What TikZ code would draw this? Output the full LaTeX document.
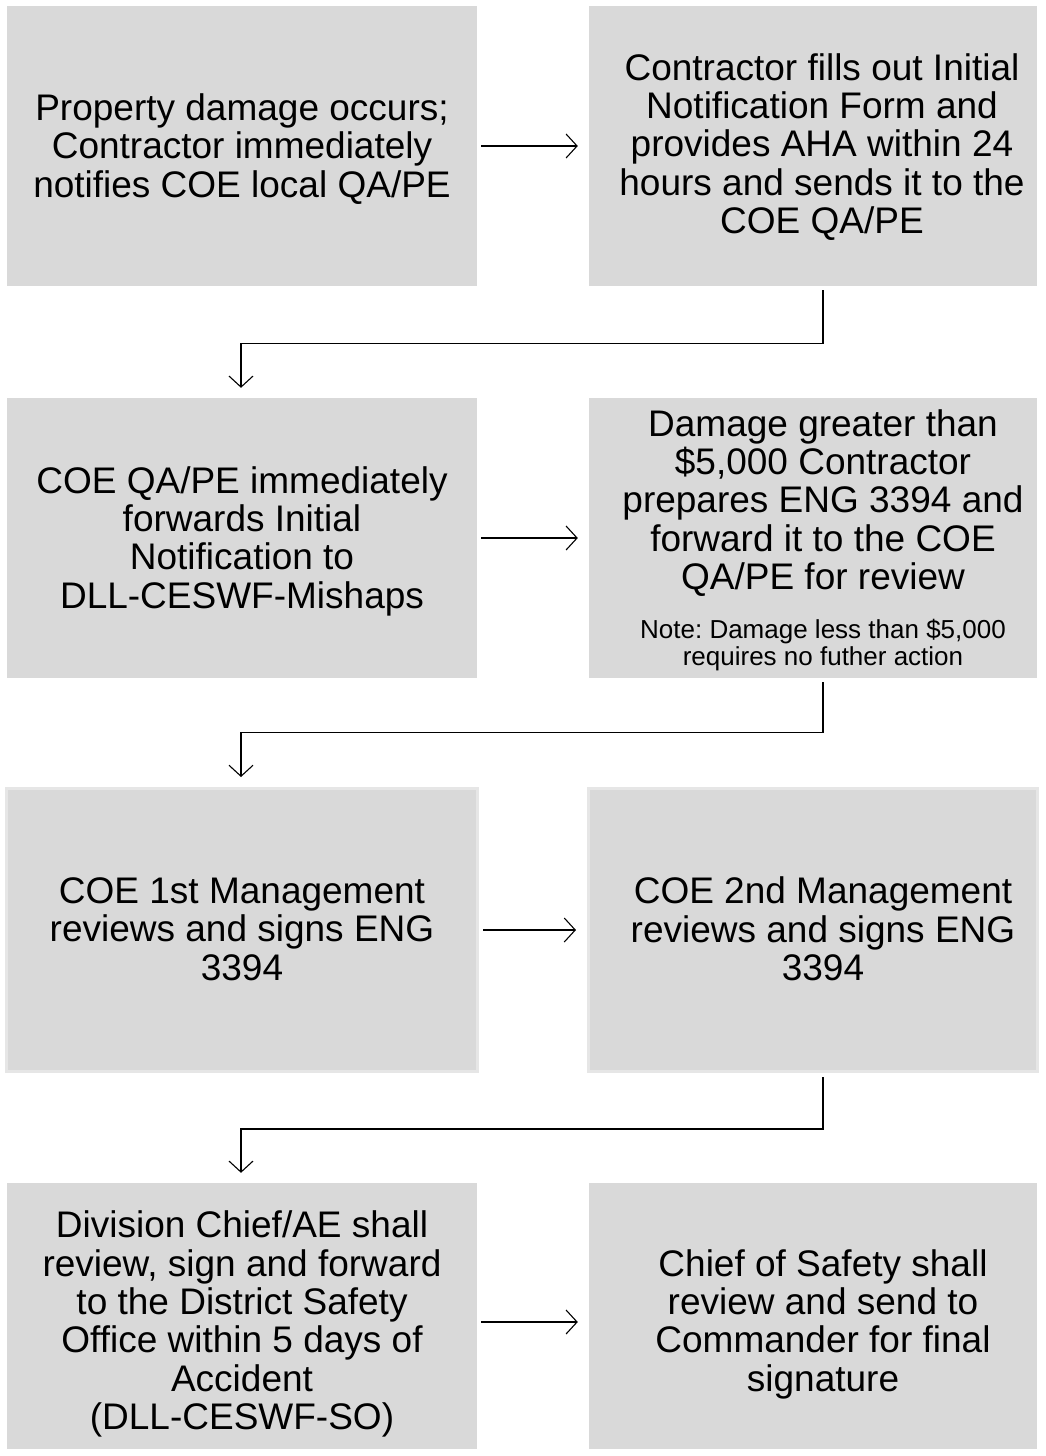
\documentclass[tikz,border=0pt]{standalone}
\usepackage{fontspec}
\setmainfont{Liberation Sans}
\usetikzlibrary{arrows.meta}
\begin{document}
\frenchspacing
\begin{tikzpicture}[x=1pt,y=-1pt,
  box/.style={fill=boxgray,draw=none,inner sep=0pt},
  boxl/.style={box,minimum width=470pt,minimum height=280pt},
  boxr/.style={box,minimum width=448pt,minimum height=280pt},
  txt/.style={align=center,inner sep=0pt,font=\fontsize{37}{38.3}\selectfont},
  note/.style={align=center,inner sep=0pt,font=\fontsize{26}{27}\selectfont},
  arr/.style={draw=black,line width=1.1pt,-{Straight Barb[length=11pt,width=24pt,line width=1.1pt]}},
  ]
\definecolor{boxgray}{HTML}{D9D9D9}
\definecolor{edgegray}{HTML}{E6E6E6}
\useasboundingbox (0,0) rectangle (1045,1456);
\node[boxl] (b1) at (242,146) {};
\node[boxr] (b2) at (813,146) {};
\node[boxl] (b3) at (242,538) {};
\node[boxr] (b4) at (813,538) {};
\node[boxl,draw=edgegray,line width=3pt,minimum width=471pt,minimum height=283pt] (b5) at (242,930) {};
\node[boxr,draw=edgegray,line width=3pt,minimum width=449pt,minimum height=283pt] (b6) at (813,930) {};
\node[boxl,minimum height=266pt] (b7) at (242,1316) {};
\node[boxr,minimum height=266pt] (b8) at (813,1316) {};
% texts
\node[txt] (t1) at ([yshift=-3]b1.center) {Property damage occurs;\\Contractor immediately\\notifies COE local QA/PE};
\node[txt] (t2) at ([xshift=9,yshift=-1]b2.center) {Contractor fills out Initial\\Notification Form and\\provides AHA within 24\\hours and sends it to the\\COE QA/PE};
\node[txt] (t3) at ([yshift=-3]b3.center) {COE QA/PE immediately\\forwards Initial\\Notification to\\DLL-CESWF-Mishaps};
\node[txt] (t4) at (823,503) {Damage greater than\\\$5,000 Contractor\\prepares ENG 3394 and\\forward it to the COE\\QA/PE for review};
\node[note] (t4n) at (823,645) {Note: Damage less than \$5,000\\requires no futher action};
\node[txt] (t5) at ([yshift=1]b5.center) {COE 1st Management\\reviews and signs ENG\\3394};
\node[txt] (t6) at ([xshift=10,yshift=1]b6.center) {COE 2nd Management\\reviews and signs ENG\\3394};
\node[txt] (t7) at ([yshift=-8]b7.center) {Division Chief/AE shall\\review, sign and forward\\to the District Safety\\Office within 5 days of\\Accident\\(DLL-CESWF-SO)};
\node[txt] (t8) at ([xshift=10,yshift=-8]b8.center) {Chief of Safety shall\\review and send to\\Commander for final\\signature};
% horizontal arrows
\draw[arr,shorten <=4pt,shorten >=11pt] (b1.east) -- (b2.west);
\draw[arr,shorten <=4pt,shorten >=11pt] (b3.east) -- (b4.west);
\draw[arr,shorten <=4pt,shorten >=11pt] (b5.east) -- (b6.west);
\draw[arr,shorten <=4pt,shorten >=11pt] ([yshift=-6]b7.east) -- ([yshift=-6]b8.west);
% elbows
\draw[arr,shorten <=4pt,shorten >=10pt] ([xshift=10]b2.south) -- ++(0,57) -| ([xshift=-1]b3.north);
\draw[arr,shorten <=4pt,shorten >=10pt] ([xshift=10]b4.south) -- ++(0,54) -| ([xshift=-1]b5.north);
\draw[arr,shorten <=4pt,shorten >=10pt] ([xshift=10]b6.south) -- ++(0,56) -| ([xshift=-1]b7.north);
\end{tikzpicture}
\end{document}
